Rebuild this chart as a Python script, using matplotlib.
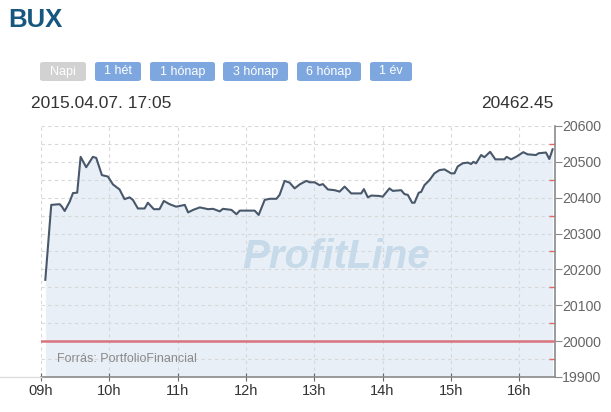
import matplotlib
matplotlib.use("Agg")
import matplotlib.pyplot as plt
from matplotlib.patches import FancyBboxPatch
from matplotlib.lines import Line2D
from matplotlib.ticker import MultipleLocator, FixedLocator
import numpy as np

# minutes since 09:00 and BUX index values
minutes = [3.8, 9.0, 16.4, 18.4, 20.8, 25.2, 28.1, 31.8, 34.8, 39.7, 45.6, 48.5,
           53.5, 58.8, 63.2, 69.0, 73.4, 77.8, 80.7, 85.1, 91.0, 93.9, 99.1, 104.1,
           107.9, 112.9, 118.7, 121.9, 126.3, 129.2, 133.6, 139.5, 146.8, 151.1, 157.0,
           159.9, 167.3, 171.7, 174.6, 187.7, 191.2, 196.5, 200.9, 206.8, 209.6, 214.0,
           218.4, 222.8, 227.2, 233.1, 236.0, 240.4, 244.7, 247.6, 252.0, 257.9, 262.3,
           266.7, 272.5, 281.3, 283.6, 287.1, 290.1, 296.7, 300.2, 306.1, 309.0, 316.4,
           319.3, 322.2, 326.0, 328.1, 331.8, 333.9, 336.8, 341.2, 345.6, 350.0, 354.4,
           360.2, 363.2, 366.0, 370.4, 374.8, 377.8, 379.8, 382.2, 386.6, 389.5, 394.5,
           399.1, 407.0, 409.0, 412.9, 417.3, 423.7, 427.4, 434.8, 437.1, 443.6, 446.5,
           449.4]
values = [20171, 20380, 20382, 20375, 20363, 20389, 20413, 20414, 20514, 20485, 20514, 20511,
          20463, 20459, 20437, 20423, 20396, 20401, 20394, 20370, 20370, 20386, 20368, 20368,
          20391, 20382, 20375, 20377, 20380, 20359, 20366, 20373, 20368, 20369, 20362,
          20369, 20366, 20354, 20364, 20364, 20352, 20394, 20397, 20397, 20408, 20447,
          20442, 20426, 20437, 20447, 20443, 20443, 20435, 20438, 20423, 20421, 20417,
          20431, 20412, 20412, 20424, 20401, 20406, 20405, 20403, 20426, 20419, 20421,
          20410, 20408, 20386, 20386, 20414, 20416, 20435, 20449, 20468, 20477, 20479,
          20468, 20468, 20487, 20496, 20498, 20494, 20500, 20496, 20519, 20513, 20528,
          20507, 20507, 20514, 20507, 20514, 20527, 20521, 20519, 20524, 20526, 20508,
          20535]
ref_level = 20000
hour_labels = ["09h", "10h", "11h", "12h", "13h", "14h", "15h", "16h"]
y_ticks = [19900, 20000, 20100, 20200, 20300, 20400, 20500, 20600]
buttons = ["Napi", "1 hét", "1 hónap", "3 hónap", "6 hónap", "1 év"]
title = "BUX"
stamp = "2015.04.07. 17:05"
last_value = "20462.45"
source = "Forrás: PortfolioFinancial"

plt.rcParams['font.family'] = ['Liberation Sans', 'DejaVu Sans']

W, H = 611, 412
fig = plt.figure(figsize=(W / 100, H / 100), dpi=100)

def fx(px):
    return px / W

def fy(py):
    return 1 - py / H

ax = fig.add_axes([fx(41), fy(377), fx(555) - fx(41), fy(126) - fy(377)])
ax.set_xlim(0, 451.5)
ax.set_ylim(19900, 20600)

# fill goes under the grid so the dashed lines show through it
ax.fill_between(minutes, values, 19900, color="#e8eff7", lw=0, zorder=0.2)
ax.axhline(ref_level, color="#d9737e", lw=1.8, zorder=3)
ax.plot(minutes, values, color="#48586a", lw=1.5, zorder=4)

# grid
ax.set_axisbelow(True)
ax.yaxis.set_minor_locator(MultipleLocator(50))
ax.grid(which="both", axis="y", color="#d8d8d8", lw=0.8, ls=(0, (3, 3)))
ax.grid(which="major", axis="x", color="#d8d8d8", lw=0.8, ls=(0, (3, 3)))

# axes
for s in ["left", "top"]:
    ax.spines[s].set_visible(False)
ax.spines["right"].set_color("#8a8a8a")
ax.spines["bottom"].set_color("#8a8a8a")
ax.spines["right"].set_linewidth(1.2)
ax.spines["bottom"].set_linewidth(1.2)

ax.yaxis.tick_right()
ax.yaxis.set_major_locator(FixedLocator(y_ticks))
ax.set_yticklabels([str(v) for v in y_ticks])
ax.tick_params(axis="y", which="major", direction="out", length=5, color="#8a8a8a",
               labelsize=10.2, labelcolor="#666666", pad=0)
ax.tick_params(axis="y", which="minor", direction="in", length=4, color="#e06868", width=1)

ax.set_xticks(np.arange(len(hour_labels)) * 60)
ax.set_xticklabels(hour_labels)
ax.tick_params(axis="x", direction="inout", length=6, color="#666666",
               labelsize=10.5, labelcolor="#333333", pad=2)

# faint axis line continuing to the left
fig.add_artist(Line2D([0, fx(41)], [fy(377), fy(377)], color="#dddddd", lw=1))

# watermark and source
ax.text(0.575, 0.48, "ProfitLine", transform=ax.transAxes, fontsize=29,
        fontweight="bold", fontstyle="italic", color="#c6dae9", ha="center",
        va="center", zorder=2)
ax.text(0.032, 0.07, source, transform=ax.transAxes, fontsize=9,
        color="#8a8a8a", ha="left", va="center", zorder=5)

# header
fig.text(fx(8), fy(20), title, fontsize=18.5, fontweight="bold", color="#15577f",
         ha="left", va="center")
fig.text(fx(31), fy(104), stamp, fontsize=12.5, color="#333333", ha="left", va="center")
fig.text(fx(554), fy(104), last_value, fontsize=12.5, color="#333333", ha="right", va="center")

btn_x = [(40, 86), (95, 141), (150, 215), (223, 288), (297, 361), (370, 412)]
for lab, (x0, x1) in zip(buttons, btn_x):
    col = "#d2d2d2" if lab == "Napi" else "#7ea7e0"
    patch = FancyBboxPatch((fx(x0), fy(81)), fx(x1) - fx(x0), fy(62) - fy(81),
                           boxstyle="round,pad=0,rounding_size=0.005",
                           transform=fig.transFigure, facecolor=col, edgecolor="none")
    fig.add_artist(patch)
    fig.text(fx((x0 + x1) / 2), fy(71.5), lab, fontsize=9, color="white",
             ha="center", va="center")

fig.savefig("out.png", dpi=100)
